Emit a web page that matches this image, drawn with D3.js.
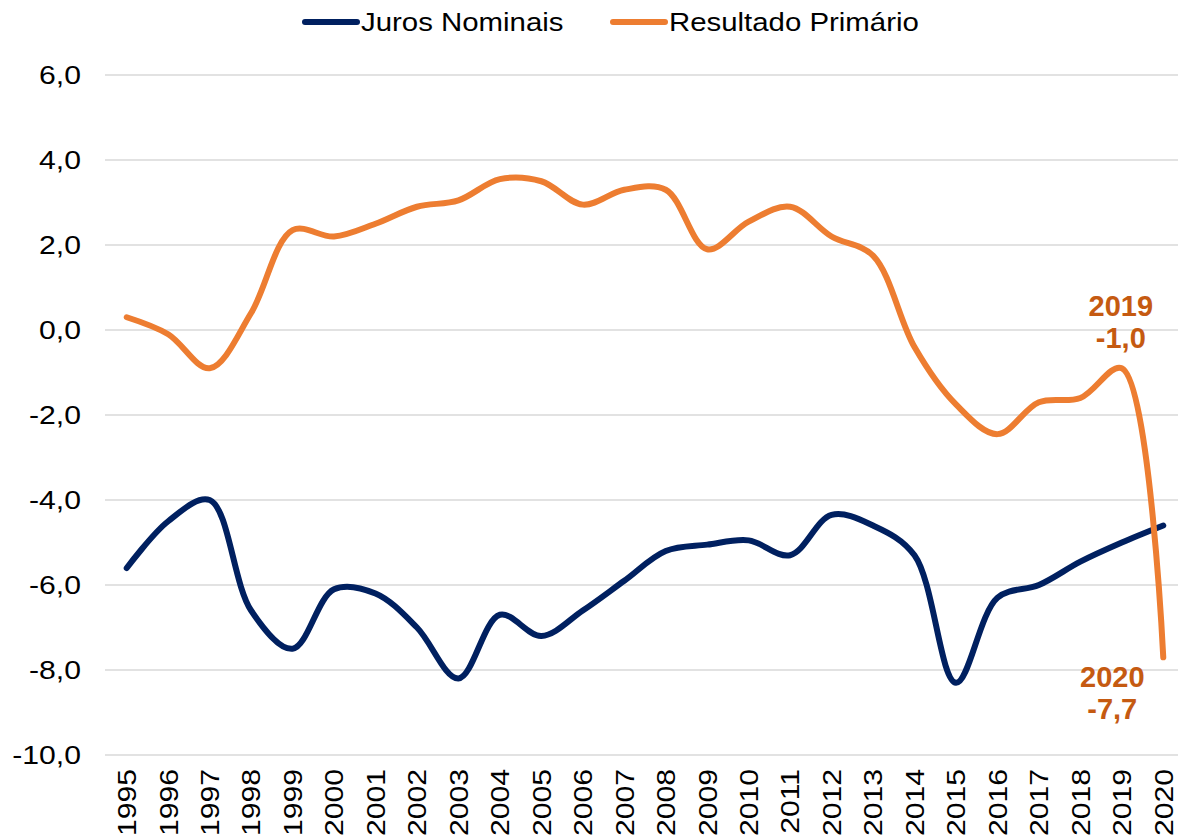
<!DOCTYPE html>
<html>
<head>
<meta charset="utf-8">
<script src="https://cdn.jsdelivr.net/npm/d3@7"></script>
<style>
  body { margin: 0; background: #fff; }
  svg { display: block; font-family: "Liberation Sans", Arial, sans-serif; }
</style>
</head>
<body>
<svg id="chart" width="1178" height="840"></svg>
<script>
// years on the category axis
var years = ["1995","1996","1997","1998","1999","2000","2001","2002","2003","2004","2005","2006","2007",
  "2008","2009","2010","2011","2012","2013","2014","2015","2016","2017","2018","2019","2020"];

// % do PIB
var jurosNominais = [-5.6, -4.5, -4.0, -6.6, -7.5, -6.1, -6.2, -7.0, -8.2, -6.7, -7.2, -6.6, -5.9,
  -5.2, -5.05, -4.95, -5.3, -4.35, -4.6, -5.3, -8.3, -6.3, -6.0, -5.45, -5.0, -4.6];
var resultadoPrimario = [0.3, -0.1, -0.9, 0.4, 2.35, 2.2, 2.5, 2.9, 3.05, 3.55, 3.5, 2.95, 3.3,
  3.3, 1.9, 2.55, 2.9, 2.2, 1.75, -0.4, -1.75, -2.45, -1.7, -1.6, -0.9, -7.7];

var yTicks = [6, 4, 2, 0, -2, -4, -6, -8, -10];

var seriesNames = ["Juros Nominais", "Resultado Primário"];
var seriesColors = ["#002060", "#ED7D31"];

// point labels
var callouts = [
  { year: "2019", lines: ["2019", "-1,0"] },
  { year: "2020", lines: ["2020", "-7,7"] }
];

var svg = d3.select("#chart");

var x = d3.scaleBand()
  .domain(years)
  .range([106, 1184]);

var y = d3.scaleLinear()
  .domain([-10, 6])
  .range([755, 75]);

var fmt = function (v) { return d3.format(".1f")(v).replace(".", ",").replace("−", "-"); };

// the original font is a bit wider than Liberation Sans, stretch texts along their length
function widen(sel, k) {
  sel.each(function () {
    var len = this.getComputedTextLength();
    d3.select(this)
      .attr("textLength", len * k)
      .attr("lengthAdjust", "spacingAndGlyphs");
  });
}

//gridlines
svg.append("g")
  .selectAll("line")
  .data(yTicks)
  .enter().append("line")
  .attr("x1", 105)
  .attr("x2", 1190)
  .attr("y1", function (d) { return y(d); })
  .attr("y2", function (d) { return y(d); })
  .attr("stroke", "#d9d9d9")
  .attr("stroke-width", 1.5);

// y axis labels (no axis line in the original)
var yAxis = d3.axisLeft(y).tickValues(yTicks).tickSize(0).tickPadding(0).tickFormat(fmt);
var gy = svg.append("g")
  .attr("transform", "translate(81,0)")
  .call(yAxis);
gy.select(".domain").remove();
gy.selectAll("text")
  .attr("font-family", "Liberation Sans, Arial, sans-serif")
  .attr("font-size", 26)
  .attr("fill", "#000")
  .call(widen, 1.16);

// x axis labels, rotated
var xAxis = d3.axisBottom(x).tickSize(0).tickPadding(0);
var gx = svg.append("g")
  .attr("transform", "translate(0,769)")
  .call(xAxis);
gx.select(".domain").remove();
gx.selectAll("text")
  .attr("font-family", "Liberation Sans, Arial, sans-serif")
  .attr("font-size", 26)
  .attr("fill", "#000")
  .attr("text-anchor", "end")
  .attr("transform", "rotate(-90)")
  .attr("x", 0)
  .attr("y", 0)
  .attr("dy", "0.36em")
  .call(widen, 1.16);

var line = d3.line()
  .x(function (d, i) { return x(years[i]) + x.bandwidth() / 2; })
  .y(function (d) { return y(d); })
  .curve(d3.curveCatmullRom.alpha(0.5));

[jurosNominais, resultadoPrimario].forEach(function (values, k) {
  svg.append("path")
    .datum(values)
    .attr("fill", "none")
    .attr("stroke", seriesColors[k])
    .attr("stroke-width", 6)
    .attr("stroke-linecap", "round")
    .attr("stroke-linejoin", "round")
    .attr("d", line);
});

// legend
var legendX = [305, 613];
seriesNames.forEach(function (name, k) {
  var g = svg.append("g").attr("transform", "translate(" + legendX[k] + ",22)");
  g.append("line")
    .attr("x1", 0).attr("x2", 52)
    .attr("stroke", seriesColors[k])
    .attr("stroke-width", 6)
    .attr("stroke-linecap", "round");
  g.append("text")
    .attr("x", 56)
    .attr("dy", "0.36em")
    .attr("font-size", 26)
    .attr("fill", "#000")
    .text(name)
    .call(widen, 1.13);
});

// callouts
var calloutY = { "2019": 316, "2020": 687 };
callouts.forEach(function (c) {
  var cx = x(c.year) + x.bandwidth() / 2 + (c.year === "2019" ? -1 : -51);
  var t = svg.append("text")
    .attr("text-anchor", "middle")
    .attr("font-size", 29)
    .attr("font-weight", "bold")
    .attr("fill", "#C55A11");
  c.lines.forEach(function (s, j) {
    t.append("tspan")
      .attr("x", cx)
      .attr("y", calloutY[c.year] + j * 32)
      .text(s);
  });
});
</script>
</body>
</html>
